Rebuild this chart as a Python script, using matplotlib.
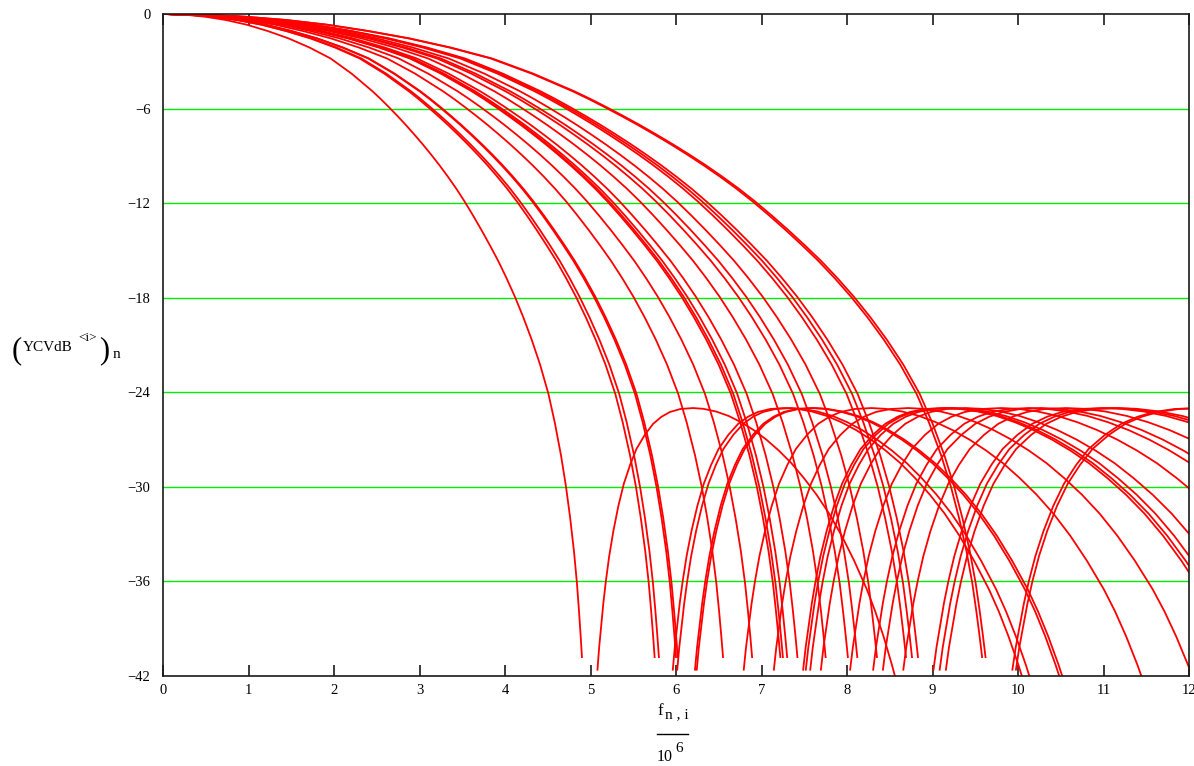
import numpy as np
import matplotlib
matplotlib.use("Agg")
import matplotlib.pyplot as plt
from matplotlib.lines import Line2D

plt.rcParams['font.family'] = 'serif'
plt.rcParams['font.serif'] = ['Liberation Serif', 'DejaVu Serif']

# main lobe shape, frequency normalised to the lobe's end point
main_u = [0.00, 0.05, 0.10, 0.15, 0.20, 0.25, 0.30, 0.35, 0.40, 0.45, 0.50, 0.52, 0.54,
          0.56, 0.58, 0.60, 0.62, 0.64, 0.66, 0.68, 0.70, 0.72, 0.74, 0.76, 0.78, 0.80,
          0.82, 0.84, 0.86, 0.88, 0.90, 0.92, 0.935, 0.95, 0.962, 0.972, 0.981, 0.988,
          0.993, 0.997, 1.000]
main_db = [0.0, -0.04, -0.17, -0.38, -0.68, -1.08, -1.55, -2.13, -2.82, -3.78, -4.90, -5.40,
           -5.93, -6.48, -7.05, -7.65, -8.27, -8.92, -9.60, -10.32, -11.08, -11.90, -12.78,
           -13.70, -14.66, -15.66, -16.76, -17.94, -19.24, -20.66, -22.24, -24.1, -25.9,
           -28.0, -30.0, -32.0, -34.1, -36.1, -37.9, -39.5, -40.8]

# first side lobe, same normalisation
side_u = [1.037, 1.041, 1.046, 1.051, 1.057, 1.065, 1.075, 1.087, 1.10, 1.115, 1.13, 1.15,
          1.17, 1.19, 1.21, 1.235, 1.265, 1.29, 1.32, 1.35, 1.38, 1.41, 1.44, 1.47, 1.50,
          1.53, 1.56, 1.59, 1.62, 1.65, 1.68, 1.70, 1.72, 1.74, 1.76]
side_db = [-41.6, -40.2, -38.8, -37.4, -36.0, -34.4, -32.8, -31.2, -29.8, -28.6, -27.6, -26.7,
           -26.0, -25.55, -25.25, -25.06, -25.0, -25.05, -25.22, -25.5, -25.9, -26.4, -27.0,
           -27.7, -28.5, -29.45, -30.5, -31.7, -33.1, -34.7, -36.5, -37.9, -39.5, -41.3, -43.3]

# where each main lobe leaves the plot (MHz), one per curve i
lobe_end = [4.90, 5.75, 5.80, 6.00, 6.02, 6.55, 6.89, 7.22, 7.25, 7.30,
            7.42, 7.75, 8.01, 8.12, 8.35, 8.69, 8.76, 8.83, 9.58, 9.62]

y_ticks = [0, -6, -12, -18, -24, -30, -36, -42]

fig = plt.figure(figsize=(11.94, 7.66), dpi=100)
ax = fig.add_axes([163 / 1194, 1 - 676 / 766, 1026 / 1194, 662 / 766])

for n_end in lobe_end:
    ax.plot(np.array(main_u) * n_end, main_db, color='#ff0000', lw=1.3)
    ax.plot(np.array(side_u) * n_end, side_db, color='#ff0000', lw=1.3)

ax.set_xlim(0, 12)
ax.set_ylim(-42, 0)
ax.set_xticks(range(13))
ax.set_yticks(y_ticks)
for yv in y_ticks[1:-1]:
    ax.axhline(yv, color='#00ee00', lw=1.0, zorder=0)

ax.tick_params(axis='x', direction='in', length=8, width=1.2, color='#1a1a1a',
               top=True, labelsize=10.5, pad=6)
ax.tick_params(axis='y', length=0, labelsize=10.5, pad=9)
for sp in ax.spines.values():
    sp.set_color('#1a1a1a')
    sp.set_linewidth(1.2)


def px(x, y):
    return x / 1194, 1 - y / 766


# y axis label built from pieces so the brackets can be tall
fig.text(*px(12, 358), '(', ha='left', va='baseline', fontsize=22)
fig.text(*px(23, 351), 'YCVdB', ha='left', va='baseline', fontsize=11)
fig.text(*px(78, 341), '<i>', ha='left', va='baseline', fontsize=9.5)
fig.text(*px(99, 358), ')', ha='left', va='baseline', fontsize=22)
fig.text(*px(113, 358), 'n', ha='left', va='baseline', fontsize=11)

# x axis label: f_{n,i} over 10^6
fig.text(*px(657, 715), 'f', ha='left', va='baseline', fontsize=12)
fig.text(*px(665, 718), 'n , i', ha='left', va='baseline', fontsize=11)
fig.add_artist(Line2D([657 / 1194, 688 / 1194], [1 - 734 / 766, 1 - 734 / 766],
                      color='black', lw=1.0))
fig.text(*px(657, 761), '10', ha='left', va='baseline', fontsize=11.5)
fig.text(*px(675, 752), '6', ha='left', va='baseline', fontsize=11)

fig.savefig('out.png', dpi=100)
